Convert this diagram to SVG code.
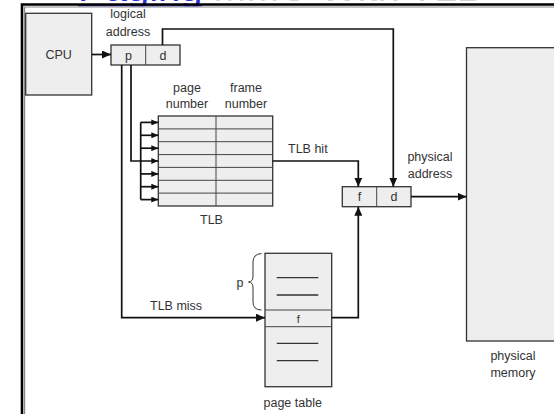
<svg xmlns="http://www.w3.org/2000/svg" width="554" height="414" viewBox="0 0 554 414">
<style>
.lbl{font-family:"Liberation Sans",Arial,sans-serif;font-size:12.5px;fill:#333}
.mid{text-anchor:middle}
.box{fill:#eeeeee;stroke:#333;stroke-width:1.3}
.grid{stroke:#444;stroke-width:1;fill:none}
.con{fill:none;stroke:#111;stroke-width:1.7}
.title{font-family:"Liberation Sans",Arial,sans-serif;font-size:40px}
</style>
<defs>
<marker id="ah" markerUnits="userSpaceOnUse" markerWidth="10" markerHeight="8" refX="9" refY="4" orient="auto">
<path d="M0,0 L9,4 L0,8 z" fill="#111"/>
</marker>
<marker id="ahs" markerUnits="userSpaceOnUse" markerWidth="8" markerHeight="6" refX="7" refY="3" orient="auto">
<path d="M0,0 L7,3 L0,6 z" fill="#111"/>
</marker>
</defs>
<rect width="554" height="414" fill="#fff"/>
<g id="title">
<text class="title" x="78" y="1" fill="#2a2ad8">Paging</text>
<rect x="78" y="5.2" width="124" height="1.4" fill="#2a2ad8"/>
<text class="title" x="213" y="1" fill="#d0d0d0">MMU With TLB</text>
</g>
<rect x="22" y="6.6" width="532" height="408" fill="#fff"/>
<g id="frame">
<path d="M22,414 V4.5 H554" fill="none" stroke="#000" stroke-width="2.6"/>
<path d="M24.6,414 V7 H554" fill="none" stroke="#888" stroke-width="1.2"/>
</g>
<g id="cpu">
<rect class="box" x="25.7" y="13.3" width="66" height="81.7"/>
<text class="lbl mid" x="58.7" y="58.5">CPU</text>
</g>
<g id="logical-address">
<text class="lbl mid" x="128" y="18">logical</text>
<text class="lbl mid" x="128" y="36">address</text>
<rect class="box" x="111" y="45" width="69" height="20"/>
<line class="grid" x1="145.7" y1="45" x2="145.7" y2="65"/>
<text class="lbl mid" x="128.5" y="59.5">p</text>
<text class="lbl mid" x="163" y="59.5">d</text>
</g>
<g id="tlb">
<text class="lbl mid" x="187" y="92">page</text>
<text class="lbl mid" x="187" y="108">number</text>
<text class="lbl mid" x="246" y="92">frame</text>
<text class="lbl mid" x="246" y="108">number</text>
<rect class="box" x="158.3" y="116" width="114.4" height="90"/>
<line class="grid" x1="216" y1="116" x2="216" y2="206"/>
<path class="grid" d="M158.3,128.9 H272.7 M158.3,141.7 H272.7 M158.3,154.6 H272.7 M158.3,167.4 H272.7 M158.3,180.3 H272.7 M158.3,193.1 H272.7"/>
<text class="lbl mid" x="211.5" y="224">TLB</text>
</g>
<g id="physical-address">
<text class="lbl mid" x="430" y="161">physical</text>
<text class="lbl mid" x="430" y="178">address</text>
<rect class="box" x="342.3" y="186.7" width="68.7" height="20"/>
<line class="grid" x1="376.7" y1="186.7" x2="376.7" y2="206.7"/>
<text class="lbl mid" x="359.5" y="201">f</text>
<text class="lbl mid" x="394" y="201">d</text>
</g>
<g id="page-table">
<rect class="box" x="265" y="253.3" width="66.7" height="133.4"/>
<path class="grid" d="M265,310 H331.7 M265,326.7 H331.7"/>
<path d="M276.7,277.7 H318.3 M276.7,295 H318.3 M276.7,343.3 H318.3 M276.7,360.7 H318.3" stroke="#333" stroke-width="1.3"/>
<text class="lbl mid" x="298.3" y="322.5" style="font-size:11px">f</text>
<path d="M261.5,253.5 Q253,254 253,262 V276 Q253,282 248.5,282 Q253,282 253,288 V302 Q253,310 261.5,310" fill="none" stroke="#333" stroke-width="1"/>
<text class="lbl mid" x="240" y="287">p</text>
<text class="lbl mid" x="292.7" y="406.5">page table</text>
</g>
<g id="physical-memory">
<rect class="box" x="466.5" y="47.7" width="120" height="293.3"/>
<text class="lbl mid" x="513" y="360">physical</text>
<text class="lbl mid" x="513" y="377">memory</text>
</g>
<g id="connectors">
<path class="con" d="M92,54.5 H111" marker-end="url(#ah)"/>
<path class="con" d="M162.5,45 V29 H393.3 V186.7" marker-end="url(#ah)"/>
<path class="con" d="M131,65 V161 H158.3" marker-end="url(#ahs)"/>
<path class="con" d="M140.7,122.4 V199.6"/>
<path class="con" d="M140.7,122.4 H158.3" marker-end="url(#ahs)"/>
<path class="con" d="M140.7,135.3 H158.3" marker-end="url(#ahs)"/>
<path class="con" d="M140.7,148.2 H158.3" marker-end="url(#ahs)"/>
<path class="con" d="M140.7,173.9 H158.3" marker-end="url(#ahs)"/>
<path class="con" d="M140.7,186.7 H158.3" marker-end="url(#ahs)"/>
<path class="con" d="M140.7,199.6 H158.3" marker-end="url(#ahs)"/>
<path class="con" d="M121.7,65 V317.7 H265" marker-end="url(#ah)"/>
<path class="con" d="M272.7,161 H358.3 V186.7" marker-end="url(#ah)"/>
<path class="con" d="M331.7,317.7 H358.3 V206.7" marker-end="url(#ah)"/>
<path class="con" d="M411,196.7 H466.5" marker-end="url(#ah)"/>
<text class="lbl" x="288" y="153">TLB hit</text>
<text class="lbl" x="150" y="310">TLB miss</text>
</g>
</svg>
